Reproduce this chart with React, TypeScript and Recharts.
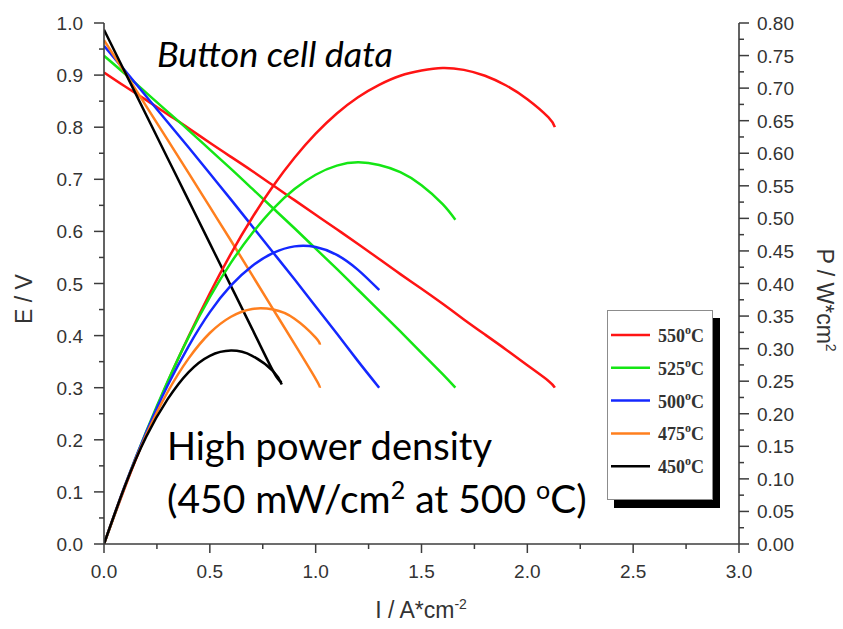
import React from 'react';
import { LineChart, Line, XAxis, YAxis, Legend } from 'recharts';

// temperatures shown in the legend, top to bottom
const temperatures = ['550', '525', '500', '475', '450'];
const seriesColors = ['#ff1414', '#14e614', '#1428ff', '#ff7f1e', '#000000'];

// I (A/cm2), E (V) and P (W/cm2)
const current550 = [0, 0.1, 0.2, 0.3, 0.4, 0.5, 0.6, 0.7, 0.8, 0.9, 1.0, 1.1, 1.2, 1.3, 1.4, 1.5, 1.6, 1.7, 1.8, 1.9, 2.0, 2.1, 2.13];
const voltage550 = [0.905, 0.878, 0.852, 0.825, 0.798, 0.77, 0.743, 0.716, 0.688, 0.66, 0.632, 0.604, 0.576, 0.547, 0.518, 0.49, 0.461, 0.431, 0.402, 0.373, 0.343, 0.313, 0.3];
const power550 = [0, 0.088, 0.17, 0.248, 0.319, 0.385, 0.446, 0.501, 0.55, 0.593, 0.63, 0.661, 0.686, 0.705, 0.719, 0.727, 0.731, 0.728, 0.719, 0.704, 0.683, 0.655, 0.64];

const current525 = [0, 0.1, 0.2, 0.3, 0.4, 0.5, 0.6, 0.7, 0.8, 0.9, 1.0, 1.1, 1.2, 1.3, 1.4, 1.5, 1.6, 1.66];
const voltage525 = [0.937, 0.902, 0.866, 0.83, 0.794, 0.757, 0.72, 0.682, 0.644, 0.606, 0.567, 0.528, 0.488, 0.448, 0.408, 0.367, 0.326, 0.3];
const power525 = [0, 0.09, 0.173, 0.249, 0.318, 0.379, 0.432, 0.477, 0.515, 0.545, 0.567, 0.581, 0.586, 0.582, 0.571, 0.551, 0.522, 0.498];

const current500 = [0, 0.1, 0.2, 0.3, 0.4, 0.5, 0.6, 0.7, 0.8, 0.9, 1.0, 1.1, 1.2, 1.3];
const voltage500 = [0.956, 0.908, 0.859, 0.81, 0.761, 0.711, 0.661, 0.61, 0.559, 0.508, 0.456, 0.404, 0.351, 0.3];
const power500 = [0, 0.091, 0.172, 0.243, 0.304, 0.356, 0.397, 0.427, 0.447, 0.457, 0.456, 0.444, 0.421, 0.39];

const current475 = [0, 0.1, 0.2, 0.3, 0.4, 0.5, 0.6, 0.7, 0.8, 0.9, 1.0, 1.02];
const voltage475 = [0.967, 0.904, 0.84, 0.776, 0.712, 0.647, 0.582, 0.516, 0.45, 0.384, 0.317, 0.3];
const power475 = [0, 0.09, 0.168, 0.233, 0.285, 0.324, 0.349, 0.361, 0.36, 0.346, 0.317, 0.306];

const current450 = [0, 0.1, 0.2, 0.3, 0.4, 0.5, 0.6, 0.7, 0.8, 0.84];
const voltage450 = [0.987, 0.905, 0.823, 0.741, 0.659, 0.577, 0.495, 0.413, 0.331, 0.31];
const power450 = [0, 0.09, 0.165, 0.222, 0.264, 0.289, 0.297, 0.289, 0.265, 0.245];

const xTicks = [0, 0.25, 0.5, 0.75, 1, 1.25, 1.5, 1.75, 2, 2.25, 2.5, 2.75, 3];
const eTicks = [0, 0.05, 0.1, 0.15, 0.2, 0.25, 0.3, 0.35, 0.4, 0.45, 0.5, 0.55, 0.6, 0.65, 0.7, 0.75, 0.8, 0.85, 0.9, 0.95, 1];
const pTicks = [0, 0.025, 0.05, 0.075, 0.1, 0.125, 0.15, 0.175, 0.2, 0.225, 0.25, 0.275, 0.3, 0.325, 0.35, 0.375, 0.4, 0.425, 0.45, 0.475, 0.5, 0.525, 0.55, 0.575, 0.6, 0.625, 0.65, 0.675, 0.7, 0.725, 0.75, 0.775, 0.8];

const zip = (i: number[], e: number[], p: number[]) => i.map((v, k) => ({ i: v, e: e[k], p: p[k] }));

const curves = [
  zip(current550, voltage550, power550),
  zip(current525, voltage525, power525),
  zip(current500, voltage500, power500),
  zip(current475, voltage475, power475),
  zip(current450, voltage450, power450),
];

const AXIS = '#3c3c3c';
const LABEL = '#333';
const SANS = 'Liberation Sans, Arial, sans-serif';
const NOTE = 'Lato, Open Sans, sans-serif';

const onStep = (v: number, step: number) => Math.abs(v / step - Math.round(v / step)) < 1e-6;

function BottomTick({ x, y, payload }: any) {
  const major = onStep(payload.value, 0.5);
  return (
    <g>
      <line x1={x} x2={x} y1={y} y2={y + (major ? 9 : 5)} stroke={AXIS} strokeWidth={1.5} />
      {major && (
        <text x={x} y={y + 34} textAnchor="middle" fontSize={19} fontFamily={SANS} fill={LABEL}>
          {payload.value.toFixed(1)}
        </text>
      )}
    </g>
  );
}

function TopTick({ x, y, payload }: any) {
  const major = onStep(payload.value, 0.5);
  return <line x1={x} x2={x} y1={y} y2={y + (major ? 10 : 8)} stroke={AXIS} strokeWidth={1.5} />;
}

function LeftTick({ x, y, payload }: any) {
  const major = onStep(payload.value, 0.1);
  return (
    <g>
      <line x1={x - (major ? 10 : 5)} x2={x} y1={y} y2={y} stroke={AXIS} strokeWidth={1.5} />
      {major && (
        <text x={x - 21} y={y + 7} textAnchor="end" fontSize={19} fontFamily={SANS} fill={LABEL}>
          {payload.value.toFixed(1)}
        </text>
      )}
    </g>
  );
}

function RightTick({ x, y, payload }: any) {
  const major = onStep(payload.value, 0.05);
  return (
    <g>
      <line x1={x} x2={x + (major ? 10 : 5)} y1={y} y2={y} stroke={AXIS} strokeWidth={1.5} />
      {major && (
        <text x={x + 18} y={y + 7} textAnchor="start" fontSize={19} fontFamily={SANS} fill={LABEL}>
          {payload.value.toFixed(2)}
        </text>
      )}
    </g>
  );
}

function LegendBox() {
  return (
    <div
      style={{
        width: 106,
        height: 190,
        boxSizing: 'border-box',
        border: '1px solid #8c8c8c',
        background: '#fff',
        boxShadow: '7px 8px 0 #000',
      }}
    >
      <svg width={104} height={188} style={{ display: 'block' }}>
        {temperatures.map((t, k) => {
          const rowY = 24 + k * 32.8;
          return (
            <g key={t}>
              <line x1={3} x2={42} y1={rowY} y2={rowY} stroke={seriesColors[k]} strokeWidth={2.5} />
              <text
                x={50}
                y={rowY + 7}
                fontFamily="Liberation Serif, Times New Roman, serif"
                fontWeight="bold"
                fontSize={18}
                fill={LABEL}
              >
                {t}
                <tspan dy={-8} fontSize={12}>o</tspan>
                <tspan dy={8}>C</tspan>
              </text>
            </g>
          );
        })}
      </svg>
    </div>
  );
}

export default function App() {
  return (
    <div style={{ position: 'absolute', left: 0, top: 0, width: 843, height: 629, background: '#fff' }}>
      <LineChart width={843} height={629} margin={{ top: 23, right: 44, bottom: 45, left: 44 }}>
        <XAxis
          xAxisId="x"
          type="number"
          dataKey="i"
          domain={[0, 3]}
          ticks={xTicks}
          interval={0}
          height={40}
          allowDataOverflow
          tickSize={0}
          tickMargin={0}
          tickLine={false}
          axisLine={{ stroke: AXIS, strokeWidth: 1.6 }}
          tick={(p: any) => <BottomTick {...p} />}
        />
        <XAxis
          xAxisId="top"
          orientation="top"
          type="number"
          dataKey="i"
          domain={[0, 3]}
          ticks={xTicks}
          interval={0}
          height={0}
          allowDataOverflow
          tickSize={0}
          tickMargin={0}
          tickLine={false}
          axisLine={{ stroke: AXIS, strokeWidth: 1.6 }}
          tick={(p: any) => <TopTick {...p} />}
        />
        <YAxis
          yAxisId="E"
          type="number"
          domain={[0, 1]}
          ticks={eTicks}
          interval={0}
          width={60}
          allowDataOverflow
          tickSize={0}
          tickMargin={0}
          tickLine={false}
          axisLine={{ stroke: AXIS, strokeWidth: 1.6 }}
          tick={(p: any) => <LeftTick {...p} />}
        />
        <YAxis
          yAxisId="P"
          orientation="right"
          type="number"
          domain={[0, 0.8]}
          ticks={pTicks}
          interval={0}
          width={60}
          allowDataOverflow
          tickSize={0}
          tickMargin={0}
          tickLine={false}
          axisLine={{ stroke: AXIS, strokeWidth: 1.6 }}
          tick={(p: any) => <RightTick {...p} />}
        />
        {curves.map((data, k) => (
          <Line
            key={'E' + temperatures[k]}
            data={data}
            xAxisId="x"
            yAxisId="E"
            dataKey="e"
            name={temperatures[k] + ' E'}
            type="natural"
            stroke={seriesColors[k]}
            strokeWidth={2.5}
            dot={false}
            activeDot={false}
            isAnimationActive={false}
          />
        ))}
        {curves.map((data, k) => (
          <Line
            key={'P' + temperatures[k]}
            data={data}
            xAxisId="x"
            yAxisId="P"
            dataKey="p"
            name={temperatures[k] + ' P'}
            type="natural"
            stroke={seriesColors[k]}
            strokeWidth={2.5}
            dot={false}
            activeDot={false}
            isAnimationActive={false}
          />
        ))}
        <Legend
          layout="vertical"
          align="center"
          verticalAlign="middle"
          wrapperStyle={{ position: 'absolute', left: 607, top: 310, width: 106, height: 190 }}
          content={() => <LegendBox />}
        />
      </LineChart>

      <svg
        width={843}
        height={629}
        style={{ position: 'absolute', left: 0, top: 0, pointerEvents: 'none' }}
      >
        <text x={0} y={0} transform="translate(32,299) rotate(-90)" textAnchor="middle" fontSize={23} fontFamily={SANS} fill={LABEL}>
          E / V
        </text>
        <text x={0} y={0} transform="translate(817,300) rotate(90)" textAnchor="middle" fontSize={23} fontFamily={SANS} fill={LABEL}>
          P / W*cm<tspan dy={-9} fontSize={14}>2</tspan>
        </text>
        <text x={421} y={618} textAnchor="middle" fontSize={23} fontFamily={SANS} fill={LABEL}>
          I / A*cm<tspan dy={-9} fontSize={14}>-2</tspan>
        </text>

        <text x={157} y={67} fontSize={35} fontStyle="italic" fontFamily={NOTE} fill="#000" textLength={236} lengthAdjust="spacingAndGlyphs">
          Button cell data
        </text>
        <text x={167} y={460} fontSize={38} fontFamily={NOTE} fill="#000" textLength={325} lengthAdjust="spacingAndGlyphs">
          High power density
        </text>
        <text x={167} y={513} fontSize={39} fontFamily={NOTE} fill="#000">
          (450 mW/cm<tspan dy={-14} fontSize={25}>2</tspan>
          <tspan dy={14}> at 500 </tspan>
          <tspan dy={-14} fontSize={25}>o</tspan>
          <tspan dy={14}>C)</tspan>
        </text>
      </svg>
    </div>
  );
}
